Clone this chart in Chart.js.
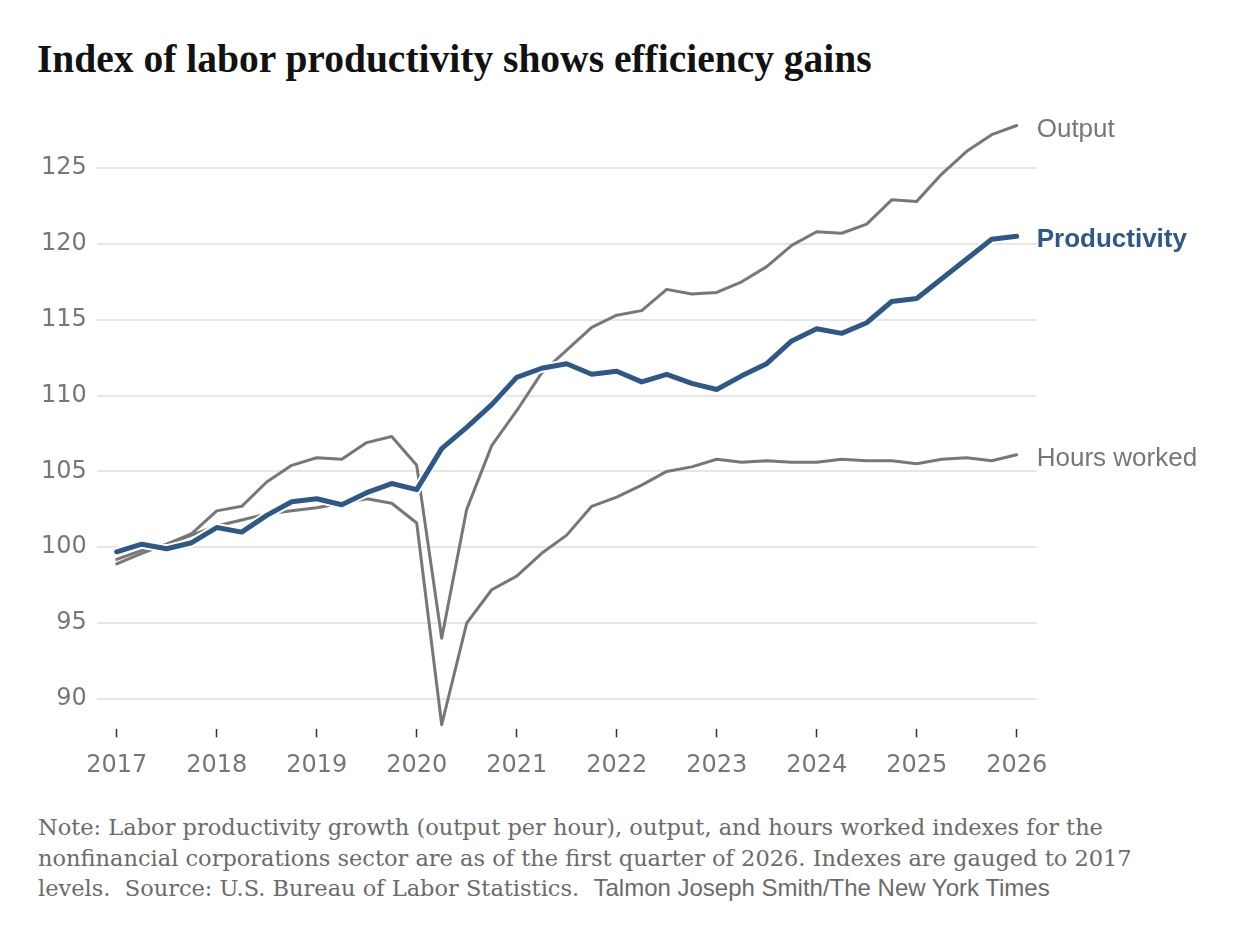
<!DOCTYPE html>
<html>
<head>
<meta charset="utf-8">
<script src="https://cdn.jsdelivr.net/npm/chart.js@4"></script>
<style>
  body { margin: 0; background: #fff; width: 1236px; height: 940px; position: relative; overflow: hidden; }
  #title { position: absolute; left: 37px; top: 40px; font-family: "Liberation Serif", serif; font-weight: bold; font-size: 39.5px; line-height: 1; color: #121212; }
  #chartWrap { position: absolute; left: 0; top: 0; }
  #note { position: absolute; left: 38px; top: 812px; font-family: "DejaVu Serif", serif; font-size: 22.5px; line-height: 30.5px; color: #6b6b6b; white-space: nowrap; }
  #note .credit { font-family: "Liberation Sans", sans-serif; font-size: 24px; }
</style>
</head>
<body>
<div id="title">Index of labor productivity shows efficiency gains</div>
<div id="chartWrap"><canvas id="chart" width="1236" height="800"></canvas></div>
<div id="note">Note: Labor productivity growth (output per hour), output, and hours worked indexes for the<br>nonfinancial corporations sector are as of the first quarter of 2026. Indexes are gauged to 2017<br>levels.&nbsp; Source: U.S. Bureau of Labor Statistics.&nbsp; <span class="credit">Talmon Joseph Smith/The New York Times</span></div>
<script>
// quarters from 2017 Q1 to 2026 Q1
const quarters = [];
for (let y = 2017; y <= 2026; y++) {
  for (let q = 1; q <= 4; q++) {
    if (y === 2026 && q > 1) break;
    quarters.push(y + (q - 1) / 4);
  }
}

const productivity = [
  99.7, 100.2, 99.9, 100.3,
  101.3, 101.0, 102.1, 103.0,
  103.2, 102.8, 103.6, 104.2,
  103.8, 106.5, 107.9, 109.4,
  111.2, 111.8, 112.1, 111.4,
  111.6, 110.9, 111.4, 110.8,
  110.4, 111.3, 112.1, 113.6,
  114.4, 114.1, 114.8, 116.2,
  116.4, 117.7, 119.0, 120.3,
  120.5
];

const output = [
  98.9, 99.6, 100.2, 100.9,
  102.4, 102.7, 104.3, 105.4,
  105.9, 105.8, 106.9, 107.3,
  105.4, 94.0, 102.5, 106.7,
  109.0, 111.5, 113.0, 114.5,
  115.3, 115.6, 117.0, 116.7,
  116.8, 117.5, 118.5, 119.9,
  120.8, 120.7, 121.3, 122.9,
  122.8, 124.6, 126.1, 127.2,
  127.8
];

const hoursWorked = [
  99.2, 99.8, 100.2, 100.8,
  101.4, 101.8, 102.2, 102.4,
  102.6, 102.9, 103.2, 102.9,
  101.6, 88.3, 95.0, 97.2,
  98.1, 99.6, 100.8, 102.7,
  103.3, 104.1, 105.0, 105.3,
  105.8, 105.6, 105.7, 105.6,
  105.6, 105.8, 105.7, 105.7,
  105.5, 105.8, 105.9, 105.7,
  106.1
];

const yearTicks = [2017, 2018, 2019, 2020, 2021, 2022, 2023, 2024, 2025, 2026];
const valueTicks = [90, 95, 100, 105, 110, 115, 120, 125];

const gray = '#777777';
const blue = '#2d5887';
const sans = '"Liberation Sans", Arial, sans-serif';
const tickFont = '"DejaVu Sans", sans-serif';

function pts(arr) {
  return arr.map((v, i) => ({ x: quarters[i], y: v }));
}

const endLabels = {
  id: 'endLabels',
  afterDatasetsDraw(chart) {
    const ctx = chart.ctx;
    const x = chart.scales.x;
    const y = chart.scales.y;
    const last = quarters.length - 1;
    const items = [
      { text: 'Output', v: output[last], color: gray, weight: 'normal' },
      { text: 'Productivity', v: productivity[last], color: blue, weight: 'bold' },
      { text: 'Hours worked', v: hoursWorked[last], color: gray, weight: 'normal' }
    ];
    ctx.save();
    ctx.textAlign = 'left';
    ctx.textBaseline = 'middle';
    items.forEach(it => {
      ctx.font = it.weight + ' 26px ' + sans;
      ctx.fillStyle = it.color;
      ctx.fillText(it.text, x.getPixelForValue(quarters[last]) + 20, y.getPixelForValue(it.v) + 4);
    });
    ctx.restore();
  }
};

new Chart(document.getElementById('chart'), {
  type: 'line',
  data: {
    datasets: [
      { label: 'Productivity', data: pts(productivity), borderColor: blue, borderWidth: 5, order: 0 },
      { label: 'halo', data: pts(productivity), borderColor: '#ffffff', borderWidth: 9, order: 1 },
      { label: 'Output', data: pts(output), borderColor: gray, borderWidth: 3, order: 2 },
      { label: 'Hours worked', data: pts(hoursWorked), borderColor: gray, borderWidth: 3, order: 3 }
    ]
  },
  options: {
    responsive: false,
    animation: false,
    devicePixelRatio: 1,
    layout: { padding: { top: 122.5, right: 199.3, left: 0, bottom: 0 } },
    elements: {
      point: { radius: 0 },
      line: { tension: 0, borderJoinStyle: 'round', borderCapStyle: 'round' }
    },
    plugins: { legend: { display: false }, tooltip: { enabled: false } },
    scales: {
      x: {
        type: 'linear',
        min: 2016.8,
        max: 2026.2,
        afterBuildTicks: s => { s.ticks = yearTicks.map(v => ({ value: v })); },
        afterFit: s => { s.height = 70.7; },
        border: { display: false },
        grid: { drawOnChartArea: false, drawTicks: true, tickLength: 8, tickColor: '#333', tickWidth: 1.5 },
        ticks: { color: gray, font: { family: tickFont, size: 24 }, padding: 14, callback: v => String(v), maxRotation: 0 }
      },
      y: {
        min: 88,
        max: 128,
        afterBuildTicks: s => { s.ticks = valueTicks.map(v => ({ value: v })); },
        afterFit: s => { s.width = 96.7; },
        border: { display: false },
        grid: { color: '#e6e6e6', lineWidth: 2, drawTicks: false },
        ticks: { color: gray, font: { family: tickFont, size: 24 }, padding: 10 }
      }
    }
  },
  plugins: [endLabels]
});
</script>
</body>
</html>
